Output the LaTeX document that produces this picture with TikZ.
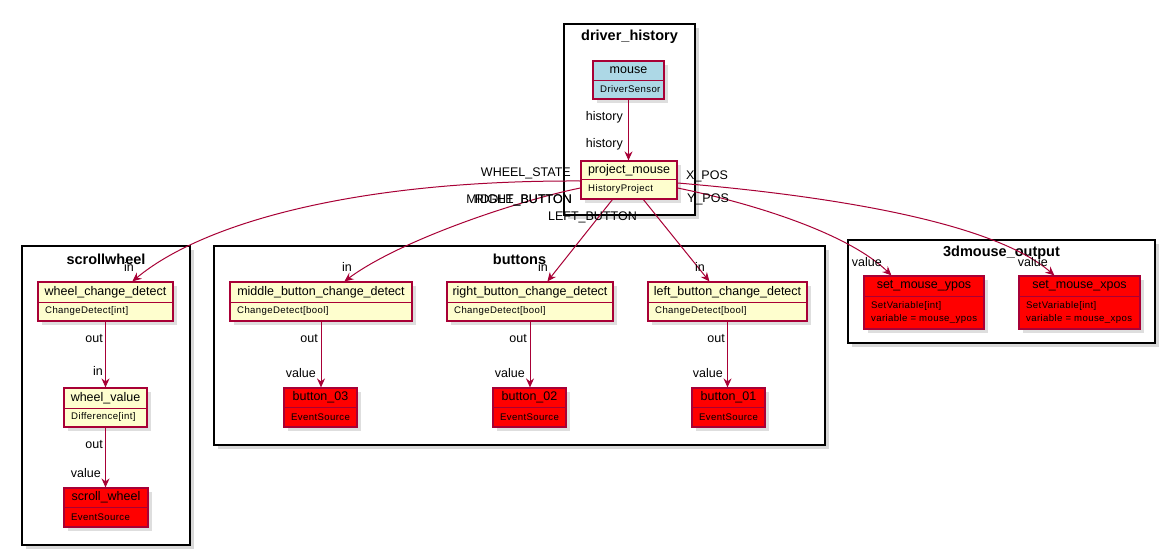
\documentclass[tikz,border=0pt]{standalone}
\usepackage{fontspec}
\setmainfont{Liberation Sans}
\newfontfamily\subfont{Liberation Sans}[LetterSpace=4]
\usetikzlibrary{arrows.meta,shadows}
\definecolor{umlred}{HTML}{A80036}
\definecolor{umlyellow}{HTML}{FEFECE}
\definecolor{umlblue}{HTML}{ADD8E6}
\definecolor{umlfill}{HTML}{FF0000}
\newcommand{\umlcls}[9]{%
  \node[clsbox,#7,minimum width={(#4-#2)*1pt},minimum height={(#5-#3)*1pt}] (#1) at ({(#2+#4)/2},{(#3+#5)/2}) {};
  \draw[clsline] (#2,#6) -- (#4,#6);
  \node[ttl] at ({(#2+#4)/2},{(#3+#6)/2}) {#8};
  \node[subt] at (#2+7,{(#6+#5)/2}) {#9};
}
\newcommand{\umlgroup}[6]{%
  \node[grp,minimum width={(#4-#2)*1pt},minimum height={(#5-#3)*1pt}] (#1) at ({(#2+#4)/2},{(#3+#5)/2}) {};
  \node[grpttl] at ({(#2+#4)/2},#3+13) {#6};
}
\begin{document}
\begin{tikzpicture}[x=1pt,y=-1pt,
  grp/.style={draw=black,line width=1.4pt,fill=white,inner sep=0,
    drop shadow={shadow xshift=4pt,shadow yshift=-4pt,fill=black!30}},
  grpttl/.style={font=\fontsize{14.5}{16}\selectfont\bfseries,inner sep=0},
  clsbox/.style={draw=umlred,line width=1.2pt,inner sep=0,
    drop shadow={shadow xshift=4pt,shadow yshift=-4pt,fill=black!25}},
  clsline/.style={draw=umlred,line width=1pt},
  yel/.style={fill=umlyellow},
  blu/.style={fill=umlblue},
  rd/.style={fill=umlfill},
  ttl/.style={font=\fontsize{12.5}{14}\selectfont,inner sep=0},
  subt/.style={font=\subfont\fontsize{9.6}{13}\selectfont,inner sep=0,anchor=west,align=left},
  lbl/.style={font=\fontsize{12.5}{14}\selectfont,inner sep=0,anchor=east},
  lblw/.style={font=\fontsize{12.5}{14}\selectfont,inner sep=0,anchor=west},
  conn/.style={draw=umlred,line width=1pt,-{Stealth[length=9pt,width=8pt,inset=3pt]}}]
\useasboundingbox[fill=white] (0,0) rectangle (1165,554);

% groups
\umlgroup{dh}{564}{24}{695}{215}{driver\_history}
\umlgroup{swg}{22}{246}{190}{545}{scrollwheel}
\umlgroup{btg}{214}{246}{825}{445}{buttons}
\umlgroup{mog}{848}{240}{1155}{343}{3dmouse\_output}

% classes
\umlcls{mouse}{593}{61}{664}{99}{80}{blu}{mouse}{DriverSensor}
\umlcls{pm}{581}{161}{677}{199}{179}{yel}{project\_mouse}{HistoryProject}
\umlcls{wcd}{38}{282}{173}{321}{302}{yel}{wheel\_change\_detect}{ChangeDetect[int]}
\umlcls{wv}{64}{388}{147}{427}{408}{yel}{wheel\_value}{Difference[int]}
\umlcls{sw}{64}{488}{148}{527}{507}{rd}{scroll\_wheel}{EventSource}
\umlcls{mbcd}{230}{282}{412}{321}{302}{yel}{middle\_button\_change\_detect}{ChangeDetect[bool]}
\umlcls{rbcd}{447}{282}{613}{321}{302}{yel}{right\_button\_change\_detect}{ChangeDetect[bool]}
\umlcls{lbcd}{648}{282}{807}{321}{302}{yel}{left\_button\_change\_detect}{ChangeDetect[bool]}
\umlcls{bthree}{284}{388}{357}{427}{407}{rd}{button\_03}{EventSource}
\umlcls{btwo}{493}{388}{566}{427}{407}{rd}{button\_02}{EventSource}
\umlcls{bone}{692}{388}{765}{427}{407}{rd}{button\_01}{EventSource}
\umlcls{ypos}{864}{276}{984}{329}{296}{rd}{set\_mouse\_ypos}{SetVariable[int]\\variable = mouse\_ypos}
\umlcls{xpos}{1019}{276}{1140}{329}{296}{rd}{set\_mouse\_xpos}{SetVariable[int]\\variable = mouse\_xpos}

% connectors
\draw[conn] (mouse.south) -- (mouse.south |- pm.north);
\draw[conn] (wcd.south) -- (wcd.south |- wv.north);
\draw[conn] (wv.south) -- (wv.south |- sw.north);
\draw[conn] (mbcd.south) -- (mbcd.south |- bthree.north);
\draw[conn] (rbcd.south) -- (rbcd.south |- btwo.north);
\draw[conn] (lbcd.south) -- (lbcd.south |- bone.north);
\draw[conn] ([yshift=-1pt]pm.west) .. controls (350,180) and (200,225) .. ([xshift=95pt]wcd.north west);
\draw[conn] ([yshift=-8pt]pm.west) .. controls (520,200) and (400,240) .. ([xshift=115pt]mbcd.north west);
\draw[conn] ([xshift=32pt]pm.south west) -- ([xshift=101pt]rbcd.north west);
\draw[conn] ([xshift=63pt]pm.south west) -- ([xshift=62pt]lbcd.north west);
\draw[conn] ([yshift=-3pt]pm.east) .. controls (820,195) and (990,220) .. ([xshift=36pt]xpos.north west);
\draw[conn] ([yshift=-8pt]pm.east) .. controls (760,205) and (850,235) .. ([xshift=28pt]ypos.north west);

% labels
\node[lbl] (l1) at (623,117) {history};
\node[lbl] (l2) at (623,144) {history};
\node[lbl] (l3) at (571,173) {WHEEL\_STATE};
\node[lbl] (l4) at (572,200) {MIDDLE\_BUTTON};
\node[lbl] (l5) at (572,200) {RIGHT\_BUTTON};
\node[lbl] (l6) at (637,217) {LEFT\_BUTTON};
\node[lblw] (l7) at (686,176) {X\_POS};
\node[lblw] (l8) at (687,199) {Y\_POS};
\node[lbl] (l9) at (134,267) {in};
\node[lbl] (l10) at (103,339) {out};
\node[lbl] (l11) at (103,371) {in};
\node[lbl] (l12) at (103,445) {out};
\node[lbl] (l13) at (101,473) {value};
\node[lbl] (l14) at (352,267) {in};
\node[lbl] (l15) at (318,339) {out};
\node[lbl] (l16) at (316,373) {value};
\node[lbl] (l17) at (548,267) {in};
\node[lbl] (l18) at (527,339) {out};
\node[lbl] (l19) at (525,373) {value};
\node[lbl] (l20) at (705,267) {in};
\node[lbl] (l21) at (725,339) {out};
\node[lbl] (l22) at (723,373) {value};
\node[lbl] (l23) at (882,262) {value};
\node[lbl] (l24) at (1048,262) {value};
\end{tikzpicture}
\end{document}
